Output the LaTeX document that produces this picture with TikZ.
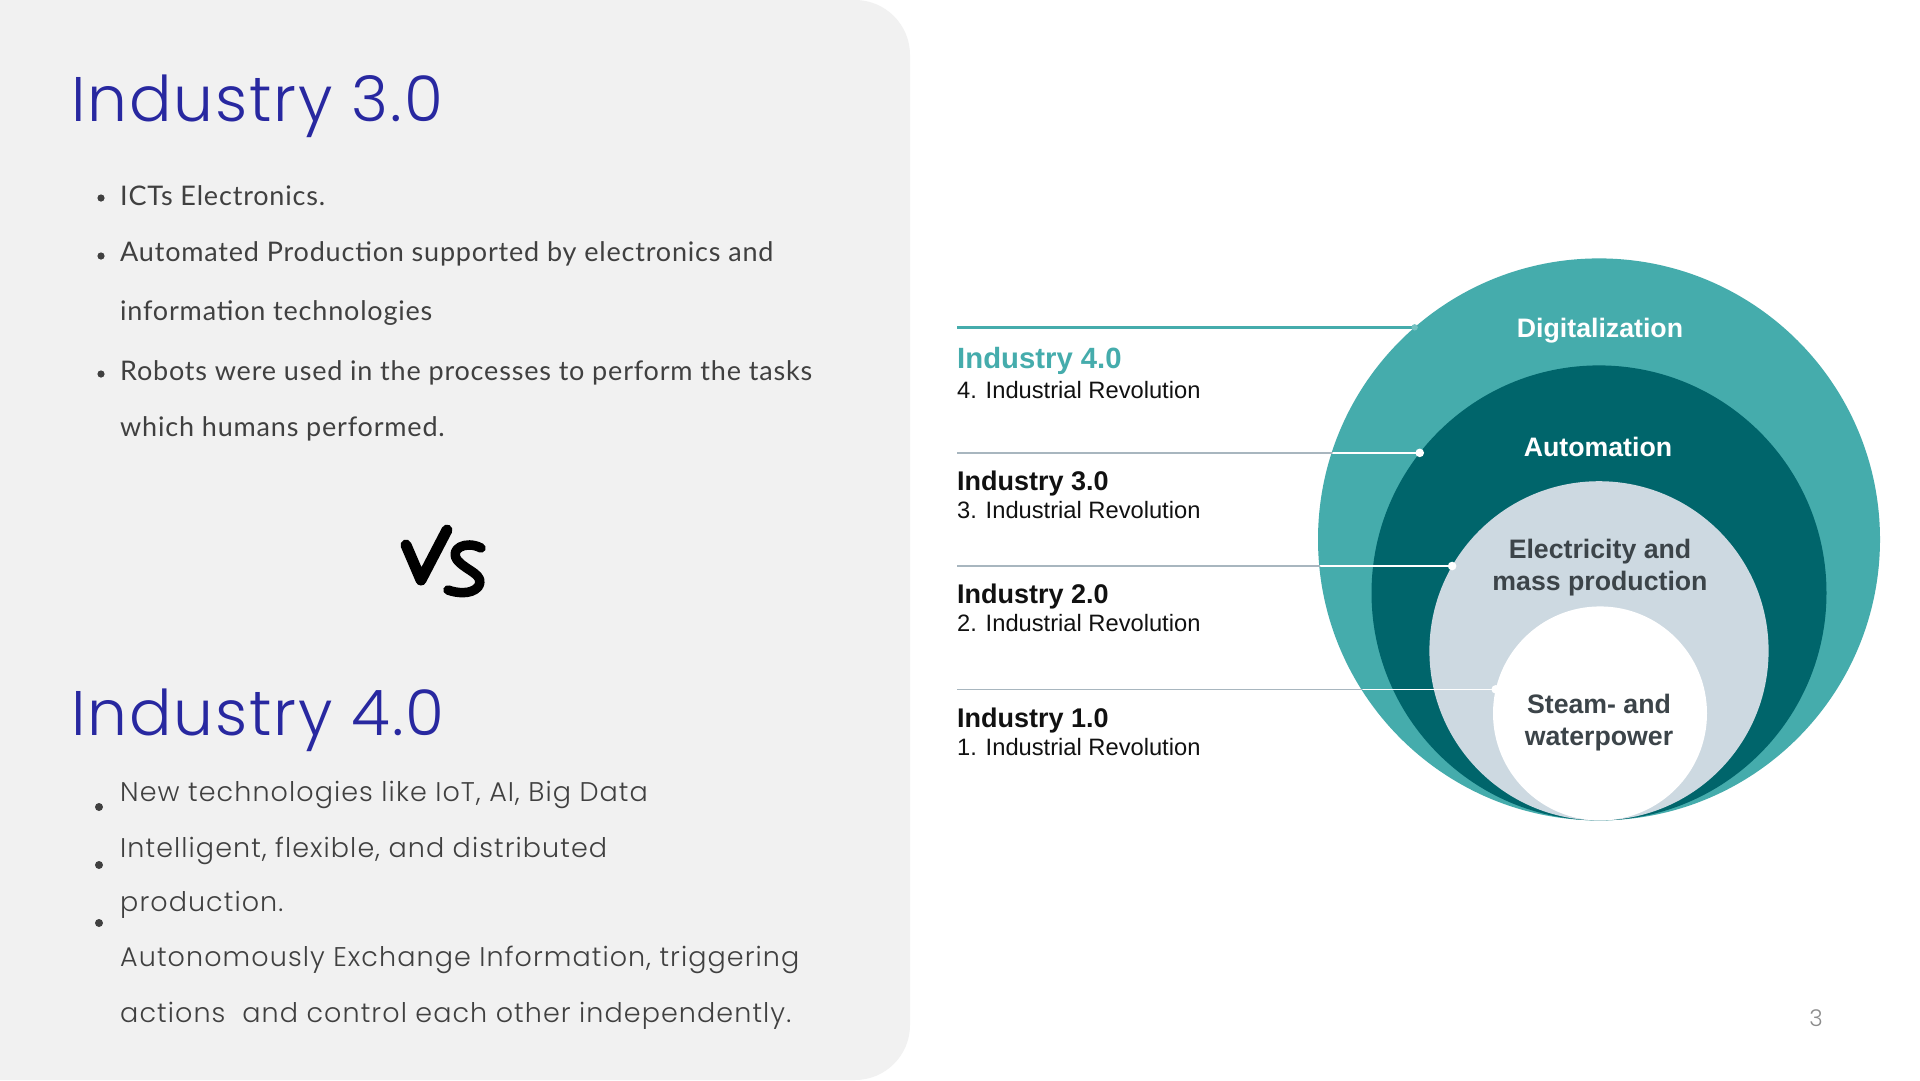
\documentclass[tikz,border=0pt]{standalone}
\usepackage{fontspec}
\setmainfont{Liberation Sans}
\IfFontExistsTF{Poppins Light}
  {\newfontfamily\geofont{Poppins Light}}
  {\newfontfamily\geofont{Poppins}}
\newfontfamily\humfont{Lato}

\definecolor{panel}{HTML}{F1F1F1}
\definecolor{titleblue}{HTML}{2828A0}
\definecolor{bodygray}{HTML}{404040}
\definecolor{tealA}{HTML}{45ACAC}
\definecolor{tealB}{HTML}{00656B}
\definecolor{mist}{HTML}{CDD9E1}
\definecolor{ringtext}{HTML}{3C4449}
\definecolor{rulegray}{HTML}{A8B6BF}
\definecolor{pagenum}{HTML}{8C8C8C}
\definecolor{labelblack}{HTML}{111111}

\tikzset{
  ring/.style={circle, inner sep=0pt, outer sep=0pt, minimum size=#1},
  head/.style={anchor=base west, inner sep=0pt, text=titleblue,
    font=\geofont\addfontfeatures{LetterSpace=3}\fontsize{63}{70}\selectfont},
  bodyA/.style={anchor=base west, inner sep=0pt, text=bodygray,
    font=\humfont\addfontfeatures{LetterSpace=3}\fontsize{27}{30}\selectfont},
  bodyB/.style={anchor=base west, inner sep=0pt, text=bodygray,
    font=\geofont\addfontfeatures{LetterSpace=4}\fontsize{27}{30}\selectfont},
  ringlabel/.style={anchor=base, inner sep=0pt,
    font=\bfseries\fontsize{26.7}{30}\selectfont},
  eralabel/.style={anchor=base west, inner sep=0pt, text=labelblack,
    font=\bfseries\fontsize{27}{30}\selectfont},
  erasub/.style={anchor=base west, inner sep=0pt, text=labelblack,
    font=\fontsize{23.7}{28}\selectfont},
  ruleline/.style={draw=rulegray, line width=1.6pt},
  innerline/.style={draw=white, line width=1.6pt},
  tealline/.style={draw=tealA, line width=3pt},
  bulletdot/.style={fill=bodygray},
  brush/.style={line width=11pt, line cap=round, line join=round, draw=black}
}

\begin{document}
\begin{tikzpicture}[x=1pt,y=-1pt]
\useasboundingbox (0,0) rectangle (1920,1080);
\fill[white] (0,0) rectangle (1920,1080);

% grey side panel with rounded right corners
\begin{scope}
  \clip (0,0) rectangle (1920,1080);
  \fill[panel, rounded corners=55pt] (-80,0) rectangle (910,1080);
\end{scope}

% ---- Industry 3.0 block
\node[head] (t3) at (71,121) {Industry 3.0};
\fill[bulletdot] (101,198) circle (3.6);
\fill[bulletdot] (101,256) circle (3.6);
\fill[bulletdot] (101,374) circle (3.6);
\node[bodyA] (a1) at (120,205.7) {ICTs Electronics.};
\node[bodyA] (a2) at (120,261.7) {Automated Production supported by electronics and};
\node[bodyA] (a3) at (120,320) {information technologies};
\node[bodyA] (a4) at (120,380) {Robots were used in the processes to perform the tasks};
\node[bodyA] (a5) at (120,436.7) {which humans performed.};

% ---- brush lettering "VS"
\draw[brush] (406,545) -- (421,580) -- (447,530);
\draw[brush, line width=9.5pt] (481,548) .. controls (466,540) and (448,549) .. (458,561)
  .. controls (467,571) and (486,575) .. (478,587)
  .. controls (471,595) and (456,593) .. (448,590);

% ---- Industry 4.0 block
\node[head] (t4) at (71,735) {Industry 4.0};
\fill[bulletdot] (99,807) circle (4);
\fill[bulletdot] (99,865) circle (4);
\fill[bulletdot] (99,923) circle (4);
\node[bodyB] (b1) at (120,801.7) {New technologies like IoT, AI, Big Data};
\node[bodyB] (b2) at (120,857.7) {Intelligent, flexible, and distributed};
\node[bodyB] (b3) at (120,911.7) {production.};
\node[bodyB] (b4) at (120,966.7) {Autonomously Exchange Information, triggering};
\node[bodyB] (b5) at (120,1022.7) {actions~ and control each other independently.};

% ---- nested circles
\node[ring=562pt, fill=tealA] (dig) at (1599,539.4) {};
\node[ring=455pt, fill=tealB] (aut) at (1599,592.9) {};
\node[ring=339.2pt, fill=mist] (ele) at (1599,650.8) {};
\node[ring=214pt, fill=white] (stm) at (1600,713.4) {};

\node[ringlabel, text=white] (ldig) at (1600,337.3) {Digitalization};
\node[ringlabel, text=white] (laut) at (1598,456.7) {Automation};
\node[ringlabel, text=ringtext] (lele1) at (1600,558.3) {Electricity and};
\node[ringlabel, text=ringtext] (lele2) at (1600,590) {mass production};
\node[ringlabel, text=ringtext] (lstm1) at (1599,713.3) {Steam- and};
\node[ringlabel, text=ringtext] (lstm2) at (1599,745) {waterpower};

% ---- leader lines
\coordinate (x0) at (957,0);
\coordinate (s4) at (dig.131.8 -| x0);
\coordinate (s3) at (aut.142.15 -| x0);
\coordinate (s2) at (ele.150 -| x0);
\coordinate (s1) at (stm.167.9 -| x0);

\draw[tealline] (s4) -- (dig.131.8);
\fill[tealA!75!white] (dig.131.8) circle (3.2);

\draw[ruleline] (s3) -- (aut.142.15);
\draw[ruleline] (s2) -- (ele.150);
\draw[ruleline] (s1) -- (stm.167.9);
\begin{scope}
  \clip (dig.center) circle[radius=280pt];
  \draw[innerline] (s3) -- (aut.142.15);
  \draw[innerline] (s2) -- (ele.150);
  \draw[innerline] (s1) -- (stm.167.9);
\end{scope}
\fill[white] (aut.142.15) circle (4.3);
\fill[white] (ele.150) circle (4.3);
\fill[white] (stm.167.9) circle (4.3);

% ---- era labels
\node[eralabel, text=tealA, font=\bfseries\fontsize{29.3}{32}\selectfont] (e4) at (957,368.3) {Industry 4.0};
\node[erasub] (r4) at (957,398.3) {4. Industrial Revolution};
\node[eralabel] (e3) at (957,490) {Industry 3.0};
\node[erasub] (r3) at (957,518) {3. Industrial Revolution};
\node[eralabel] (e2) at (957,603.3) {Industry 2.0};
\node[erasub] (r2) at (957,631.7) {2. Industrial Revolution};
\node[eralabel] (e1) at (957,727.3) {Industry 1.0};
\node[erasub] (r1) at (957,755) {1. Industrial Revolution};

% ---- page number
\node[inner sep=0pt, text=pagenum, font=\geofont\fontsize{23}{25}\selectfont] (pg) at (1816,1018) {3};
\end{tikzpicture}
\end{document}
